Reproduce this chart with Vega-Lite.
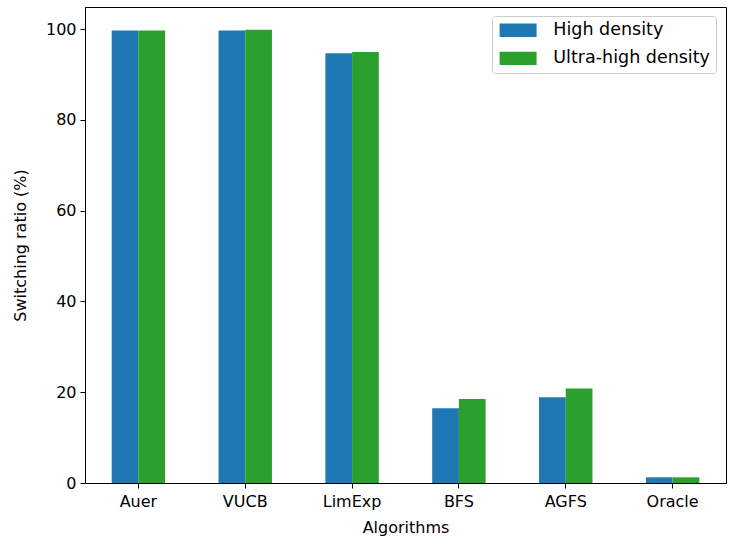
{
  "$schema": "https://vega.github.io/schema/vega-lite/v6.json",
  "width": 641,
  "height": 476,
  "autosize": {"type": "none"},
  "padding": {"left": 85, "top": 7, "right": 4, "bottom": 61},
  "background": "white",
  "data": {
    "values": [
      {"algorithm": "Auer", "density": "High density", "ratio": 99.7},
      {"algorithm": "Auer", "density": "Ultra-high density", "ratio": 99.7},
      {"algorithm": "VUCB", "density": "High density", "ratio": 99.7},
      {"algorithm": "VUCB", "density": "Ultra-high density", "ratio": 99.9},
      {"algorithm": "LimExp", "density": "High density", "ratio": 94.7},
      {"algorithm": "LimExp", "density": "Ultra-high density", "ratio": 95.0},
      {"algorithm": "BFS", "density": "High density", "ratio": 16.5},
      {"algorithm": "BFS", "density": "Ultra-high density", "ratio": 18.5},
      {"algorithm": "AGFS", "density": "High density", "ratio": 18.9},
      {"algorithm": "AGFS", "density": "Ultra-high density", "ratio": 20.8},
      {"algorithm": "Oracle", "density": "High density", "ratio": 1.25},
      {"algorithm": "Oracle", "density": "Ultra-high density", "ratio": 1.25}
    ]
  },
  "mark": {"type": "bar"},
  "encoding": {
    "x": {
      "field": "algorithm",
      "type": "nominal",
      "sort": ["Auer", "VUCB", "LimExp", "BFS", "AGFS", "Oracle"],
      "scale": {"paddingInner": 0.5, "paddingOuter": 0.25},
      "axis": {"title": "Algorithms", "labelAngle": 0, "labelPadding": 5, "titleX": 320.5, "titleY": 44, "titleBaseline": "middle"}
    },
    "xOffset": {
      "field": "density",
      "type": "nominal",
      "sort": ["High density", "Ultra-high density"],
      "scale": {"paddingInner": 0, "paddingOuter": 0}
    },
    "y": {
      "field": "ratio",
      "type": "quantitative",
      "scale": {"domain": [0, 104.9], "nice": false},
      "axis": {"title": "Switching ratio (%)", "values": [0, 20, 40, 60, 80, 100], "labelPadding": 4, "titleX": -65, "titleY": 238, "titleBaseline": "middle", "titleAlign": "center", "titleAngle": -90}
    },
    "color": {
      "field": "density",
      "type": "nominal",
      "scale": {"domain": ["High density", "Ultra-high density"], "range": ["#1f77b4", "#2ca02c"]},
      "legend": {
        "title": null,
        "orient": "none",
        "legendX": 407,
        "legendY": 9,
        "symbolType": "M-1,-1H4.56V1H-1Z",
        "symbolSize": 177,
        "symbolStrokeWidth": 0,
        "labelFontSize": 17.5,
        "labelFont": "DejaVu Sans",
        "labelColor": "black",
        "labelOffset": 38.3,
        "padding": 5.5,
        "rowPadding": 9.2,
        "strokeColor": "#cccccc",
        "fillColor": "white",
        "cornerRadius": 3
      }
    }
  },
  "config": {
    "view": {"stroke": "black", "strokeWidth": 1},
    "axis": {
      "grid": false,
      "domainColor": "black",
      "tickColor": "black",
      "labelColor": "black",
      "titleColor": "black",
      "labelFont": "DejaVu Sans",
      "titleFont": "DejaVu Sans",
      "labelFontSize": 16,
      "titleFontSize": 16,
      "titleFontWeight": "normal",
      "tickSize": 5
    }
  }
}
